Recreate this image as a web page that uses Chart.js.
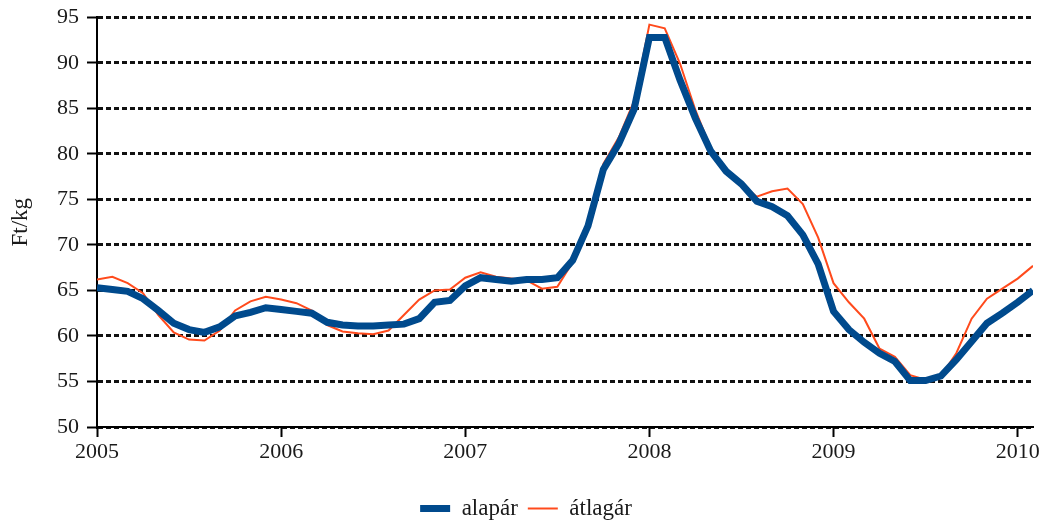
<!DOCTYPE html>
<html>
<head>
<meta charset="utf-8">
<script src="https://cdn.jsdelivr.net/npm/chart.js@4.4.1/dist/chart.umd.min.js"></script>
<style>
  html, body { margin: 0; padding: 0; background: #fff; }
</style>
</head>
<body>
<canvas id="priceChart" width="1052" height="524"></canvas>
<script>
// monthly data, Jan 2005 - Feb 2010
var yearLabels = ['2005', '2006', '2007', '2008', '2009', '2010'];

var alapar = [
  65.3, 65.1, 64.9, 64.1, 62.8, 61.4, 60.7, 60.4, 61.0, 62.2, 62.6, 63.1,
  62.9, 62.7, 62.5, 61.5, 61.2, 61.1, 61.1, 61.2, 61.3, 61.9, 63.7, 63.9,
  65.5, 66.4, 66.2, 66.0, 66.2, 66.2, 66.4, 68.3, 72.1, 78.3, 81.1, 84.9,
  92.8, 92.8, 88.1, 83.9, 80.3, 78.1, 76.7, 74.8, 74.2, 73.2, 71.1, 67.9,
  62.7, 60.7, 59.3, 58.1, 57.2, 55.1, 55.1, 55.6, 57.4, 59.4, 61.4, 62.5,
  63.7, 65.0
];

var atlagar = [
  66.2, 66.5, 65.8, 64.7, 62.3, 60.4, 59.6, 59.5, 60.6, 62.8, 63.8, 64.3,
  64.0, 63.6, 62.8, 61.2, 60.5, 60.3, 60.2, 60.6, 62.3, 64.0, 65.0, 65.1,
  66.4, 67.0, 66.5, 66.3, 66.1, 65.2, 65.4, 68.1, 72.3, 78.9, 81.8, 85.8,
  94.2, 93.8, 89.9, 84.8, 80.6, 78.2, 76.7, 75.3, 75.9, 76.2, 74.5, 70.8,
  65.8, 63.7, 61.9, 58.6, 57.7, 55.7, 55.2, 55.6, 58.1, 61.9, 64.1, 65.2,
  66.3, 67.7
];
</script>
<script>
function toPoints(arr) {
  return arr.map(function (v, i) { return { x: i, y: v }; });
}

var serif = "'Liberation Serif', 'DejaVu Serif', serif";
Chart.defaults.font.family = serif;
Chart.defaults.font.size = 22;
Chart.defaults.color = '#1a1a1a';

var ctx = document.getElementById('priceChart').getContext('2d');
var priceChart = new Chart(ctx, {
  type: 'line',
  data: {
    datasets: [{
      label: 'alapár',
      data: toPoints(alapar),
      borderColor: '#004a8d',
      backgroundColor: '#004a8d',
      borderWidth: 7,
      pointRadius: 0,
      tension: 0,
      order: 1
    }, {
      label: 'átlagár',
      data: toPoints(atlagar),
      borderColor: '#ff4a1c',
      backgroundColor: '#ff4a1c',
      borderWidth: 2,
      pointRadius: 0,
      tension: 0,
      order: 2
    }]
  },
  options: {
    responsive: false,
    animation: false,
    layout: { padding: { left: 0, right: 0, top: 1, bottom: -6 } },
    plugins: {
      tooltip: { enabled: false },
      legend: {
        position: 'bottom',
        labels: {
          usePointStyle: true,
          pointStyle: 'line',
          pointStyleWidth: 30,
          padding: 10,
          color: '#1a1a1a',
          font: { size: 23 }
        }
      }
    },
    scales: {
      x: {
        type: 'linear',
        min: 0,
        max: 61,
        grid: {
          drawOnChartArea: false,
          drawTicks: true,
          tickLength: 10,
          tickColor: '#000',
          tickWidth: 2
        },
        border: { color: '#000', width: 2 },
        ticks: {
          stepSize: 12,
          includeBounds: false,
          padding: 2,
          maxRotation: 0,
          callback: function (v) { return yearLabels[v / 12]; }
        },
        afterBuildTicks: function (s) {
          s.ticks = s.ticks.filter(function (t) { return t.value % 12 === 0; });
        },
        afterFit: function (s) {
          s.height = 60;
          s.paddingRight = 19; // keep the plot short of the right edge, legend stays centred on the canvas
        }
      },
      y: {
        min: 50,
        max: 95,
        grid: {
          color: '#111',
          lineWidth: 3,
          drawTicks: true,
          tickLength: 10,
          tickColor: '#000',
          tickWidth: 2,
          tickBorderDash: []
        },
        border: { color: '#000', width: 2, dash: [5, 3] },
        ticks: { stepSize: 5, padding: 8, font: { lineHeight: 0.85 } },
        title: { display: true, text: 'Ft/kg', font: { size: 23 }, padding: { top: 7, bottom: 0 } },
        afterFit: function (s) { s.width = 97; }
      }
    }
  }
});
</script>
</body>
</html>
